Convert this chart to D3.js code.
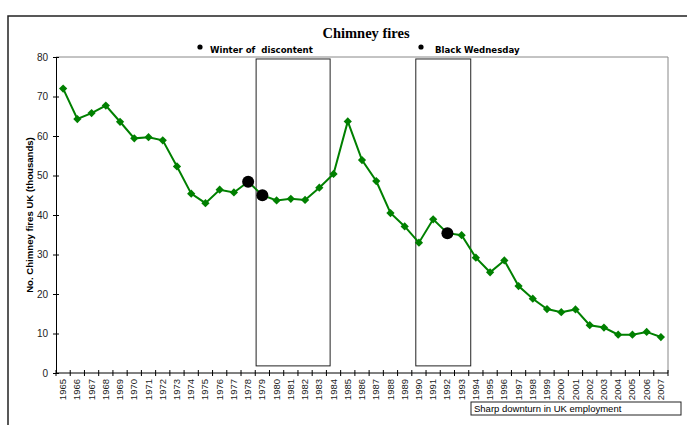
<!DOCTYPE html>
<html>
<head>
<meta charset="utf-8">
<script src="https://cdn.jsdelivr.net/npm/d3@7"></script>
<style>
  body { margin: 0; background: #fff; }
  svg { display: block; font-family: Arial, "Liberation Sans", sans-serif; }
</style>
</head>
<body>
<div id="chart"></div>
<script>
const years = d3.range(1965, 2008);
const fires = [
  72.0, 64.3, 65.8, 67.7, 63.6, 59.4, 59.7, 58.9, 52.3, 45.4,
  43.0, 46.4, 45.7, 48.4, 45.0, 43.7, 44.1, 43.8, 46.9, 50.4,
  63.7, 53.9, 48.6, 40.5, 37.1, 33.0, 38.9, 35.4, 34.9, 29.2,
  25.5, 28.5, 22.0, 18.8, 16.2, 15.4, 16.1, 12.1, 11.5, 9.7,
  9.7, 10.4, 9.1
];
const yTicks = [0, 10, 20, 30, 40, 50, 60, 70, 80];
const eventYears = [1978, 1979, 1992];
const legendLabels = ['Winter of  discontent', 'Black Wednesday'];
// periods (fractional years) drawn as outlined boxes
const periodStart = [1978.56, 1989.78];
const periodEnd = [1983.76, 1993.64];
const periodTop = 79.5;
const periodBottom = 1.8;

const data = years.map((yr, i) => ({ year: yr, value: fires[i] }));

const width = 687, height = 425;
const plotLeft = 56, plotRight = 668, plotTop = 57, plotBottom = 373;

const svg = d3.select('#chart').append('svg')
  .attr('width', width)
  .attr('height', height);

// outer chart frame
svg.append('rect')
  .attr('x', 8).attr('y', 16)
  .attr('width', 720).attr('height', 440)
  .attr('fill', 'none')
  .attr('stroke', '#222')
  .attr('stroke-width', 1.5);

const x = d3.scaleBand().domain(years).range([plotLeft, plotRight]).padding(0);
const bw = x.bandwidth();
const xl = d3.scaleLinear()
  .domain([years[0], years[years.length - 1]])
  .range([x(years[0]) + bw / 2, x(years[years.length - 1]) + bw / 2]);
const y = d3.scaleLinear().domain([0, 80]).range([plotBottom, plotTop]);

// plot border (top and right)
svg.append('path')
  .attr('d', `M${plotLeft},${plotTop}H${plotRight}V${plotBottom}`)
  .attr('fill', 'none')
  .attr('stroke', '#888')
  .attr('stroke-width', 1);

// period boxes
svg.append('g').selectAll('rect')
  .data(periodStart)
  .join('rect')
  .attr('x', (d) => xl(d))
  .attr('y', y(periodTop))
  .attr('width', (d, i) => xl(periodEnd[i]) - xl(d))
  .attr('height', y(periodBottom) - y(periodTop))
  .attr('fill', 'none')
  .attr('stroke', '#222')
  .attr('stroke-width', 1);

// y axis
const yAxis = svg.append('g')
  .attr('transform', `translate(${plotLeft},0)`)
  .call(d3.axisLeft(y).tickValues(yTicks).tickSize(3).tickPadding(5));
yAxis.selectAll('.tick line').attr('x2', 3).attr('x1', -3);
yAxis.select('.domain').attr('stroke', '#000');
yAxis.selectAll('text').style('font-size', '10px').attr('fill', '#222');

// x axis
const xAxis = svg.append('g')
  .attr('transform', `translate(0,${plotBottom})`)
  .call(d3.axisBottom(x).tickSize(0).tickPadding(0));
xAxis.select('.domain').attr('stroke', '#000').attr('d', `M${plotLeft},0H${plotRight}`);
xAxis.selectAll('.tick text')
  .attr('transform', 'rotate(-90)')
  .attr('text-anchor', 'end')
  .attr('x', -6)
  .attr('y', 0)
  .attr('dy', '0.32em')
  .style('font-size', '9.5px')
  .attr('fill', '#222');

svg.append('g').selectAll('line')
  .data(years.concat([years[years.length - 1] + 1]))
  .join('line')
  .attr('x1', (d, i) => plotLeft + i * bw)
  .attr('x2', (d, i) => plotLeft + i * bw)
  .attr('y1', plotBottom - 3)
  .attr('y2', plotBottom + 3)
  .attr('stroke', '#000');

// y label
svg.append('text')
  .attr('transform', `translate(33,${(plotTop + plotBottom) / 2}) rotate(-90)`)
  .attr('text-anchor', 'middle')
  .style('font-size', '9.6px')
  .style('font-weight', 'bold')
  .text('No. Chimney fires UK (thousands)');

// series line
svg.append('path')
  .datum(data)
  .attr('fill', 'none')
  .attr('stroke', '#008000')
  .attr('stroke-width', 2)
  .attr('d', d3.line().x((d) => x(d.year) + bw / 2).y((d) => y(d.value)));

svg.append('g').selectAll('path')
  .data(data)
  .join('path')
  .attr('transform', (d) => `translate(${x(d.year) + bw / 2},${y(d.value)}) rotate(45)`)
  .attr('d', d3.symbol(d3.symbolSquare).size(34))
  .attr('fill', '#008000');

// event markers
svg.append('g').selectAll('circle')
  .data(data.filter((d) => eventYears.includes(d.year)))
  .join('circle')
  .attr('cx', (d) => x(d.year) + bw / 2)
  .attr('cy', (d) => y(d.value))
  .attr('r', 6)
  .attr('fill', '#000');

// title
svg.append('text')
  .attr('x', 366).attr('y', 38)
  .attr('text-anchor', 'middle')
  .style('font-family', '"Liberation Serif", "Times New Roman", serif')
  .style('font-size', '14.5px')
  .style('font-weight', 'bold')
  .text('Chimney fires');

// legend-like labels
const legend = svg.append('g').selectAll('g')
  .data(legendLabels)
  .join('g')
  .attr('transform', (d, i) => `translate(${[200, 421][i]},0)`);
legend.append('circle').attr('cx', 0).attr('cy', 47).attr('r', 2.6).attr('fill', '#000');
legend.append('text')
  .attr('x', (d, i) => [10, 14][i]).attr('y', 53)
  .style('font-family', '"DejaVu Sans", Verdana, sans-serif')
  .style('font-size', '8.6px')
  .style('font-weight', 'bold')
  .style('white-space', 'pre')
  .text((d) => d);

// bottom note box
const note = svg.append('g').attr('transform', 'translate(471,402)');
note.append('rect')
  .attr('width', 210).attr('height', 13)
  .attr('fill', '#fff')
  .attr('stroke', '#222')
  .attr('stroke-width', 1);
note.append('text')
  .attr('x', 3).attr('y', 10)
  .style('font-size', '9.5px')
  .text('Sharp downturn in UK employment');
</script>
</body>
</html>
